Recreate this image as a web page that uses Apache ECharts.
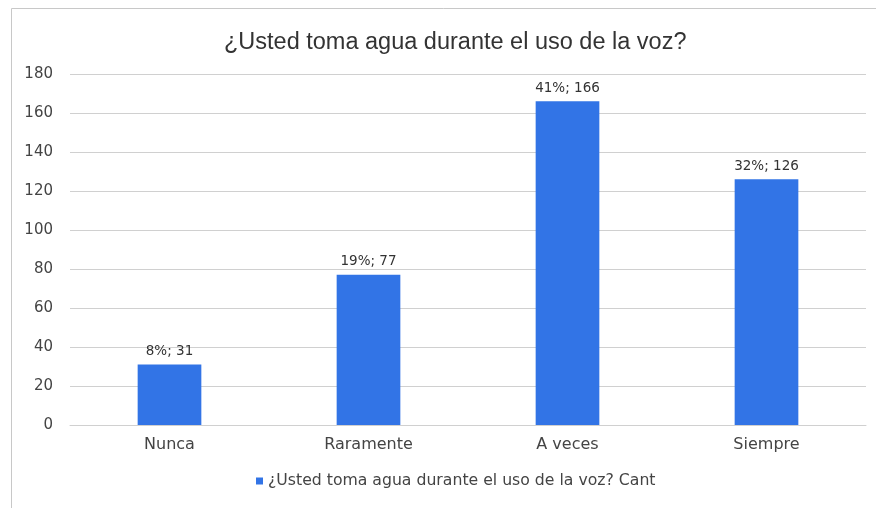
<!DOCTYPE html>
<html>
<head>
<meta charset="utf-8">
<script src="https://cdn.jsdelivr.net/npm/echarts@6/dist/echarts.min.js"></script>
<style>
  html, body { margin: 0; padding: 0; background: #fff; }
  #main { width: 876px; height: 508px; }
</style>
</head>
<body>
<div id="main"></div>
<script>
var categories = ['Nunca', 'Raramente', 'A veces', 'Siempre'];
var counts = [31, 77, 166, 126];
var percents = ['8%', '19%', '41%', '32%'];
var seriesName = '¿Usted toma agua durante el uso de la voz? Cant';

var myChart = echarts.init(document.getElementById('main'));
var font = 'Liberation Sans, Arial, sans-serif';
var wide = 'DejaVu Sans, sans-serif';

var option = {
  backgroundColor: '#fff',
  animation: false,
  textStyle: { fontFamily: wide },
  title: {
    text: '¿Usted toma agua durante el uso de la voz?',
    left: 219,
    top: 26,
    textStyle: { fontSize: 23.5, fontWeight: 'normal', color: '#333', fontFamily: font }
  },
  graphic: [{
    type: 'polyline',
    shape: { points: [[11.5, 508], [11.5, 8.5], [876, 8.5]] },
    style: { stroke: '#c8c8c8', lineWidth: 1, fill: null }
  }],
  legend: {
    bottom: 14,
    left: 251,
    itemWidth: 7,
    itemHeight: 7,
    itemGap: 4,
    icon: 'rect',
    textStyle: { fontSize: 15.7, color: '#444', fontFamily: wide },
    data: [seriesName]
  },
  grid: { left: 70, right: 10, top: 74, bottom: 83 },
  xAxis: {
    type: 'category',
    data: categories,
    axisTick: { show: false },
    axisLine: { show: true, lineStyle: { color: '#d0d0d0' } },
    axisLabel: { fontSize: 16, color: '#444', margin: 12, fontFamily: wide }
  },
  yAxis: {
    type: 'value',
    min: 0,
    max: 180,
    interval: 20,
    axisLine: { show: false },
    axisTick: { show: false },
    axisLabel: { fontSize: 15, color: '#444', margin: 17, fontFamily: wide },
    splitLine: { lineStyle: { color: '#d0d0d0' } }
  },
  series: [{
    name: seriesName,
    type: 'bar',
    data: counts,
    barWidth: '32%',
    itemStyle: { color: '#3274e6' },
    label: {
      show: true,
      position: 'top',
      distance: 6,
      fontSize: 13.5,
      color: '#333',
      fontFamily: wide,
      formatter: function (p) { return percents[p.dataIndex] + '; ' + p.value; }
    }
  }]
};

myChart.setOption(option);
window.addEventListener('resize', function () { myChart.resize(); });
</script>
</body>
</html>
